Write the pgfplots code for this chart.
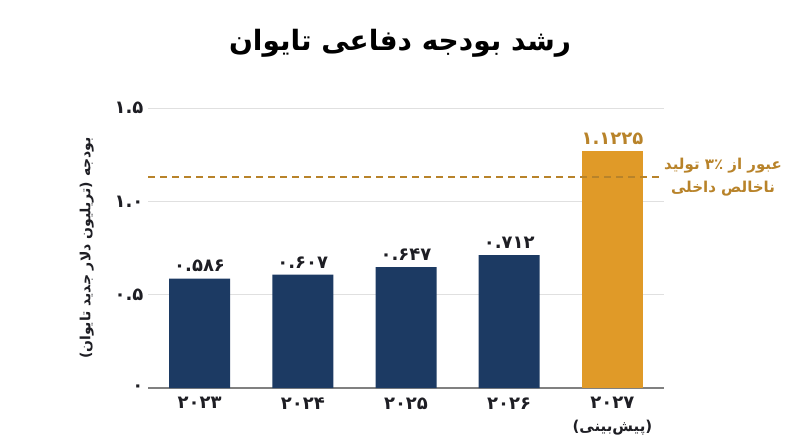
\documentclass[border=0pt]{standalone}
\usepackage{pgfplots}
\pgfplotsset{compat=1.18}
\usepackage{fontspec}
\setmainfont{DejaVu Sans}
\newfontfamily\fa[Script=Arabic]{DejaVu Sans}
\TeXXeTstate=1
\definecolor{navy}{HTML}{1C3A63}
\definecolor{gold}{HTML}{E09A28}
\definecolor{golddark}{HTML}{B8832A}
\definecolor{gridgray}{HTML}{E0E0E0}
\definecolor{axisgray}{HTML}{808080}
\definecolor{labelblack}{HTML}{1E1E24}

\begin{document}
\begin{tikzpicture}
\path[use as bounding box] (0,0) rectangle (800pt,447pt);
% title
\node[font=\fa\bfseries\fontsize{28}{34}\selectfont] at (400pt,404pt)
  {\beginR رشد بودجه دفاعی تایوان\endR};
\begin{axis}[
  at={(148pt,59pt)}, anchor=south west,
  scale only axis, width=516pt, height=280pt,
  xmin=-0.5, xmax=4.5, ymin=0, ymax=1.5,
  ybar, bar width=61pt, bar shift=0pt,
  axis lines*=left,
  y axis line style={draw=none},
  x axis line style={axisgray, line width=1.2pt},
  major tick length=0pt,
  ymajorgrids, grid style={gridgray, line width=0.8pt},
  ytick={0,0.5,1,1.5},
  yticklabels={۰,۰.۵,۱.۰,۱.۵},
  yticklabel style={font=\fa\bfseries\fontsize{18}{20}\selectfont, text=labelblack, xshift=-1pt},
  xtick={0,1,2,3,4},
  xticklabels={۲۰۲۳,۲۰۲۴,۲۰۲۵,۲۰۲۶,{۲۰۲۷\\[2pt]{\fontsize{15}{18}\selectfont\beginR(پیش‌بینی)\endR}}},
  xticklabel style={align=center, font=\fa\bfseries\fontsize{18}{21}\selectfont, text=labelblack, yshift=-6pt},
  ylabel={\beginR بودجه (تریلیون دلار جدید تایوان)\endR},
  ylabel style={font=\fa\bfseries\fontsize{14}{17}\selectfont, text=labelblack},
  every axis y label/.append style={at={(ticklabel cs:0.5)}, yshift=14pt},
  nodes near coords, point meta=explicit symbolic,
  every node near coord/.append style={font=\fa\bfseries\fontsize{18}{20}\selectfont, yshift=3pt},
  clip=false,
]
\addplot[fill=navy, draw=none, nodes near coords style={text=labelblack}] coordinates {
  (0,0.586) [۰.۵۸۶]
  (1,0.607) [۰.۶۰۷]
  (2,0.647) [۰.۶۴۷]
  (3,0.712) [۰.۷۱۲]
};
\addplot[fill=gold, draw=none, nodes near coords style={text=golddark}] coordinates {
  (4,1.27) [۱.۱۲۲۵]
};
% 3% of GDP threshold
\addplot[sharp plot, golddark, line width=1.8pt, dash pattern=on 7pt off 5pt, nodes near coords=] coordinates {
  (-0.5,1.13) (4.5,1.13)
};
\node[font=\fa\bfseries\fontsize{15}{23}\selectfont, text=golddark, align=center]
  at (axis cs:4.5,1.13) [xshift=59pt]
  {\beginR عبور از ۳٪ تولید\endR\\\beginR ناخالص داخلی\endR};
\end{axis}
\end{tikzpicture}
\end{document}
